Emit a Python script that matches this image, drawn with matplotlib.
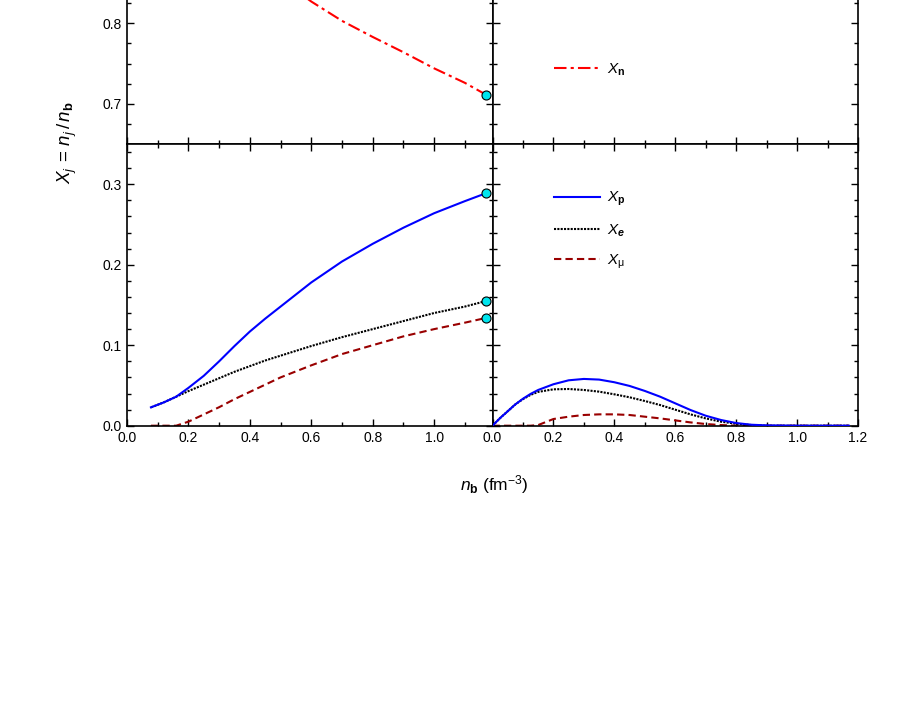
import numpy as np
import matplotlib
matplotlib.use('Agg')
import matplotlib.pyplot as plt
from matplotlib.ticker import MultipleLocator, FormatStrFormatter, FuncFormatter

plt.rcParams['font.family'] = 'Liberation Sans'
plt.rcParams['mathtext.fontset'] = 'custom'
plt.rcParams['mathtext.rm'] = 'Liberation Sans'
plt.rcParams['mathtext.it'] = 'Liberation Sans:italic'
plt.rcParams['mathtext.bf'] = 'Liberation Sans:bold'
plt.rcParams['mathtext.bfit'] = 'Liberation Sans:italic:bold'

# ---- data ----
# left panels (curves ending at the cyan points)
nb_left = [0.078, 0.12, 0.16, 0.20, 0.25, 0.30, 0.35, 0.40, 0.45, 0.50, 0.60, 0.70, 0.80, 0.90, 1.00, 1.10, 1.17]
xn_left = [0.977, 0.971, 0.964, 0.953, 0.938, 0.920, 0.902, 0.885, 0.869, 0.855, 0.827, 0.803, 0.783,
           0.764, 0.744, 0.726, 0.711]
xp_left = [0.0228, 0.029, 0.036, 0.047, 0.062, 0.080, 0.099, 0.117, 0.133, 0.148, 0.178, 0.204, 0.226,
           0.246, 0.264, 0.279, 0.289]
xe_left = [0.0228, 0.029, 0.036, 0.043, 0.051, 0.059, 0.067, 0.074, 0.081, 0.087, 0.099, 0.110, 0.120,
           0.130, 0.140, 0.148, 0.155]
xmu_left = [0.0, 0.0, 0.0, 0.005, 0.014, 0.023, 0.033, 0.042, 0.051, 0.060, 0.075, 0.089, 0.100,
            0.111, 0.120, 0.128, 0.134]

# right panel
nb_right = [0.0, 0.025, 0.05, 0.075, 0.10, 0.125, 0.15, 0.20, 0.25, 0.30, 0.35, 0.40, 0.45, 0.50, 0.55,
            0.60, 0.65, 0.70, 0.75, 0.80, 0.85, 0.90, 1.00, 1.10, 1.17]
xp_right = [0.0, 0.0095, 0.0180, 0.0265, 0.0335, 0.0395, 0.0444, 0.0515, 0.0564, 0.0581, 0.0573, 0.054,
            0.0494, 0.0432, 0.0361, 0.0278, 0.0195, 0.0124, 0.0071, 0.0033, 0.0012, 0.0004, 0.0, 0.0, 0.0]
xe_right = [0.0, 0.0095, 0.0180, 0.0265, 0.0330, 0.0383, 0.0420, 0.0452, 0.0456, 0.0444, 0.0423, 0.039,
            0.0353, 0.0307, 0.0257, 0.0199, 0.0141, 0.0091, 0.005, 0.0025, 0.0008, 0.0, 0.0, 0.0, 0.0]
xmu_right = [0.0, 0.0, 0.0, 0.0, 0.0, 0.0, 0.0008, 0.0083, 0.0112, 0.0133, 0.0141, 0.0141, 0.0133, 0.0112,
             0.0091, 0.0066, 0.0041, 0.0021, 0.0008, 0.0, 0.0, 0.0, 0.0, 0.0, 0.0]

RED = '#FF0000'
BLUE = '#0000FF'
DARKRED = '#990000'

W, H = 913, 705
fig = plt.figure(figsize=(W / 100, H / 100), dpi=100)


def px_axes(x0, x1, ytop, ybot):
    """axes from pixel box (origin top-left)"""
    return fig.add_axes([x0 / W, 1 - ybot / H, (x1 - x0) / W, (ybot - ytop) / H])


xl, xm, xr = 127, 492.5, 858
yb, ym = 425.7, 144
ph = yb - ym
ax_tl = px_axes(xl, xm, ym - ph, ym)
ax_tr = px_axes(xm, xr, ym - ph, ym)
ax_bl = px_axes(xl, xm, ym, yb)
ax_br = px_axes(xm, xr, ym, yb)

# ===== curves =====
ln_n, = ax_tl.plot(nb_left, xn_left, color=RED, lw=1.5, dashes=(6, 2, 1.5, 2))
ln_p, = ax_bl.plot(nb_left, xp_left, color=BLUE, lw=1.5, zorder=4)
ln_e, = ax_bl.plot(nb_left, xe_left, color='black', lw=1.5, ls=(0, (1, 0.6)), zorder=3)
ln_mu, = ax_bl.plot(nb_left, xmu_left, color=DARKRED, lw=1.5, dashes=(3.5, 2), zorder=2)

ax_br.plot(nb_right, xmu_right, color=DARKRED, lw=1.5, dashes=(3.5, 2), zorder=2)
ax_br.plot(nb_right, xe_right, color='black', lw=1.5, ls=(0, (1, 0.6)), zorder=3)
ax_br.plot(nb_right, xp_right, color=BLUE, lw=1.5, zorder=4)

# end points
for ax, ys in [(ax_tl, xn_left), (ax_bl, xp_left), (ax_bl, xe_left), (ax_bl, xmu_left)]:
    ax.plot(nb_left[-1], ys[-1], 'o', mfc='#00E5EE', mec='black', mew=0.8, ms=6.5,
            clip_on=False, zorder=6)

# ===== axes styling =====
for ax in [ax_tl, ax_tr]:
    ax.set_ylim(0.65, 1.0)
    ax.yaxis.set_major_locator(MultipleLocator(0.1))
    ax.yaxis.set_minor_locator(MultipleLocator(0.025))
for ax in [ax_bl, ax_br]:
    ax.set_ylim(0.0, 0.35)
    ax.yaxis.set_major_locator(MultipleLocator(0.1))
    ax.yaxis.set_minor_locator(MultipleLocator(0.02))
for ax in [ax_tl, ax_bl]:
    ax.set_xlim(0.0, 1.19)
for ax in [ax_tr, ax_br]:
    ax.set_xlim(0.0, 1.2)

for ax in [ax_tl, ax_tr, ax_bl, ax_br]:
    ax.xaxis.set_major_locator(MultipleLocator(0.2))
    ax.xaxis.set_minor_locator(MultipleLocator(0.1))
    ax.xaxis.set_major_formatter(FormatStrFormatter('%.1f'))
    ax.yaxis.set_major_formatter(FormatStrFormatter('%.1f'))
    ax.tick_params(which='both', direction='in', top=True, right=True,
                   labelsize=10, width=1.0, pad=4)
    ax.tick_params(which='major', length=5)
    ax.tick_params(which='minor', length=3)
    for sp in ax.spines.values():
        sp.set_linewidth(1.2)

# labels of the top panel above the page edge are not shown
ax_tl.yaxis.set_major_formatter(FuncFormatter(lambda v, p: f'{v:.1f}' if v < 0.85 else ''))

ax_tl.tick_params(labelbottom=False)
ax_tr.tick_params(labelbottom=False, labelleft=False)
ax_br.tick_params(labelleft=False)

# ===== legends =====
leg1 = ax_tr.legend([ln_n], [r'$X_\mathbf{n}$'], loc='center left',
                    bbox_to_anchor=(554 / W, 1 - 70 / H), bbox_transform=fig.transFigure,
                    frameon=False, fontsize=11, handlelength=3.0, handletextpad=0.5,
                    borderpad=0, borderaxespad=0)
leg2 = ax_br.legend([ln_p, ln_e, ln_mu],
                    [r'$X_\mathbf{p}$', r'$X_\mathbfit{e}$', r'$X_\mathrm{\mu}$'],
                    loc='upper left', bbox_to_anchor=(554 / W, 1 - 190 / H),
                    bbox_transform=fig.transFigure, frameon=False, fontsize=11,
                    handlelength=3.0, handletextpad=0.5, labelspacing=0.92,
                    borderpad=0, borderaxespad=0)

# ===== axis labels (shared) =====
fig.text(67 / W, 1 - 143 / H, r'$X_j\,=\,n_j\,/\,n_\mathbf{b}$', rotation=90,
         ha='center', va='center', fontsize=13.5)
fig.text(494 / W, 1 - 485 / H, r'$n_\mathbf{b}$ (fm$^{-3}$)',
         ha='center', va='center', fontsize=12.5)

fig.savefig('out.png', dpi=100, facecolor='white')
